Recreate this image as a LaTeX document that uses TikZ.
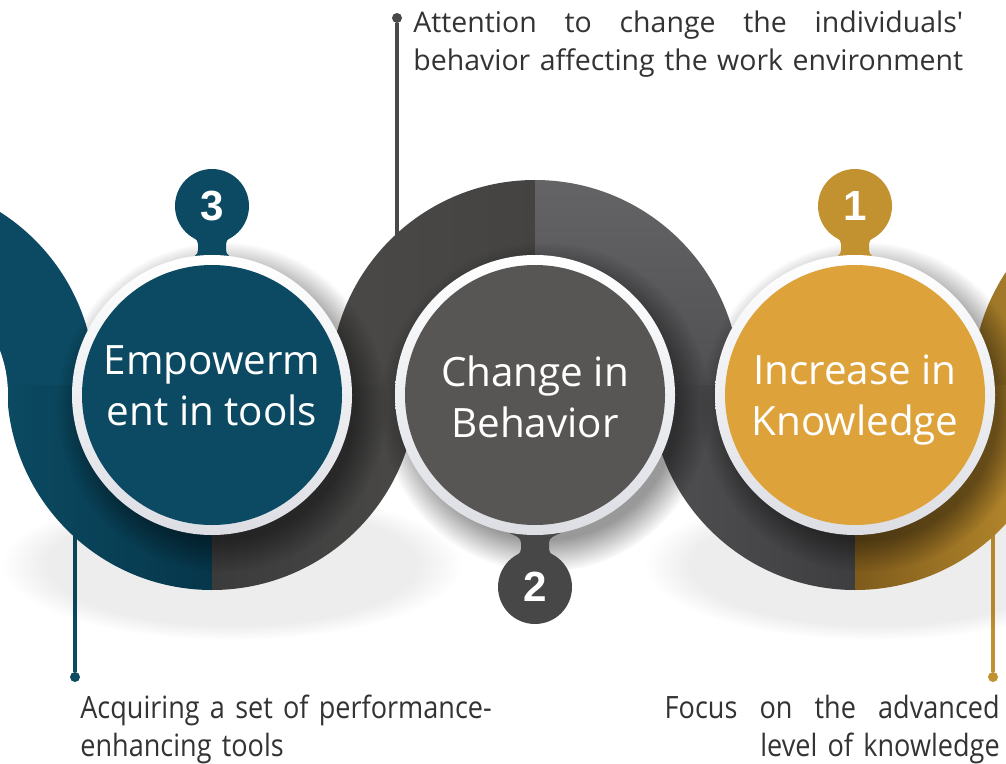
\documentclass[tikz,border=0pt]{standalone}
\usepackage{fontspec}
\setmainfont{Open Sans}
\newfontfamily\numfont{Liberation Sans}
\newfontfamily\condfont[FakeStretch=0.88]{Open Sans}
\usetikzlibrary{fadings}
\usetikzlibrary{calc}

\definecolor{tealA}{HTML}{0B4A62}
\definecolor{tealD}{HTML}{06364A}
\definecolor{grayD}{HTML}{3B3B3B}
\definecolor{grayB}{HTML}{4A4948}
\definecolor{grayL}{HTML}{646466}
\definecolor{grayM}{HTML}{505052}
\definecolor{grayK}{HTML}{3E3E40}
\definecolor{grayN}{HTML}{474747}
\definecolor{grayC}{HTML}{585654}
\definecolor{goldA}{HTML}{C29230}
\definecolor{goldD}{HTML}{7E5B1C}
\definecolor{goldC}{HTML}{DEA23A}
\definecolor{ringC}{HTML}{DCDEE4}
\definecolor{txtC}{HTML}{333333}

\begin{document}
\begin{tikzpicture}[x=0.02cm,y=-0.02cm]

\tikzstyle{lbl}=[text=white,align=center,inner sep=0pt,font=\fontsize{23}{29}\selectfont];
\tikzstyle{num}=[text=white,inner sep=0pt,font=\numfont\bfseries\fontsize{24}{24}\selectfont];
\tikzstyle{desc}=[text=txtC,align=left,inner sep=0pt,font=\fontsize{16.2}{21.6}\selectfont];
\tikzstyle{descb}=[text=txtC,inner sep=0pt,font=\condfont\fontsize{17.5}{21.6}\selectfont];
\tikzstyle{dot}=[circle,inner sep=0pt,minimum size=0.2cm];
\tikzstyle{pin}=[line width=2pt];
% band quarters
\tikzstyle{qA}=[top color=tealA,bottom color=tealA];
\tikzstyle{qB}=[left color=tealA,right color=tealD];
\tikzstyle{qC}=[left color=grayD,right color=grayB];
\tikzstyle{qD}=[left color=grayB,right color=grayB!92!black];
\tikzstyle{qE}=[top color=grayL,bottom color=grayM];
\tikzstyle{qF}=[left color=grayM,right color=grayK];
\tikzstyle{qG}=[left color=goldD,right color=goldA];
\tikzstyle{qH}=[left color=goldA!80!black,right color=goldA];

\useasboundingbox (0,0) rectangle (1006,763);
\clip (0,0) rectangle (1006,763);
\fill[white] (0,0) rectangle (1006,763);

% pins
\node[dot,fill=grayB] (dotT) at (397,18) {};
\coordinate (endT) at (397,240);
\draw[pin,grayB] (dotT) -- (endT);

\node[dot,fill=tealA] (dotL) at (75,677) {};
\coordinate (endL) at (75,530);
\draw[pin,tealA] (endL) -- (dotL);

\node[dot,fill=goldA] (dotR) at (993,677) {};
\coordinate (endR) at (993,530);
\draw[pin,goldA] (endR) -- (dotR);

% soft shadow under the band
\foreach \cx in {232,875}{
	\fill[black,opacity=0.07,path fading=circle with fuzzy edge 20 percent] (\cx,565) ellipse[x radius=230,y radius=75];
};

\foreach \cx/\a/\q in {-110/270/qA,212/90/qB,212/0/qC,535/180/qD,535/270/qE,855/90/qF,855/0/qG,1177/180/qH}{
	\shade[\q] (\cx,385) -- ++(\a:205) arc[start angle=\a,delta angle=90,radius=205] -- cycle;
};
\fill[white] (-118,395) circle[radius=126];

% shadows of the discs
\foreach \cx in {212,535,855}{
	\fill[black,opacity=0.4,path fading=circle with fuzzy edge 20 percent] (\cx+10,407) circle[radius=165];
};

% number bubbles
\foreach \bx/\by/\d/\col/\n in {212/206/1/tealA/3,535/587/-1/grayN/2,855/206/1/goldA/1}{
	\fill[\col] ({\bx-14},{\by+38*\d}) .. controls ({\bx-14},{\by+33*\d}) and ({\bx-20},{\by+30*\d}) .. ({\bx-27},{\by+25*\d})
		-- ({\bx+27},{\by+25*\d}) .. controls ({\bx+20},{\by+30*\d}) and ({\bx+14},{\by+33*\d}) .. ({\bx+14},{\by+38*\d})
		-- ({\bx+14},{\by+44*\d}) .. controls ({\bx+14},{\by+49*\d}) and ({\bx+18},{\by+51*\d}) .. ({\bx+26},{\by+54*\d})
		-- ({\bx-26},{\by+54*\d}) .. controls ({\bx-18},{\by+51*\d}) and ({\bx-14},{\by+49*\d}) .. ({\bx-14},{\by+44*\d}) -- cycle;
	\fill[\col] (\bx,\by) circle[radius=37];
	\node[num] (num\n) at (\bx,\by) {\n};
};

% discs
\foreach \cx/\col in {212/tealA,535/grayC,855/goldC}{
	\shade[top color=white,bottom color=ringC] (\cx,395) circle[radius=140];
	\fill[\col] (\cx,395) circle[radius=130];
};

\node[lbl] (lab3) at (212,386) {Empowerm\\ent in tools};
\node[lbl] (lab2) at (535,397) {Change in\\Behavior};
\node[lbl] (lab1) at (855,400) {Increase in\\Knowledge};

\node[desc,anchor=north west,text width=11cm] (txtT) at (413,11) {\hbox to 11cm{Attention\hfill to\hfill change\hfill the\hfill individuals\textquotesingle}\\behavior affecting the work environment};
\node[descb,anchor=north west,align=left,text width=8.5cm] (txtL) at (80,695) {Acquiring a set of performance-\\enhancing tools};
\node[descb,anchor=north east,align=right,text width=6.7cm] (txtR) at (1000,695) {\hbox to 6.7cm{Focus\hfill on\hfill the\hfill advanced}\\level of knowledge};

\end{tikzpicture}
\end{document}
